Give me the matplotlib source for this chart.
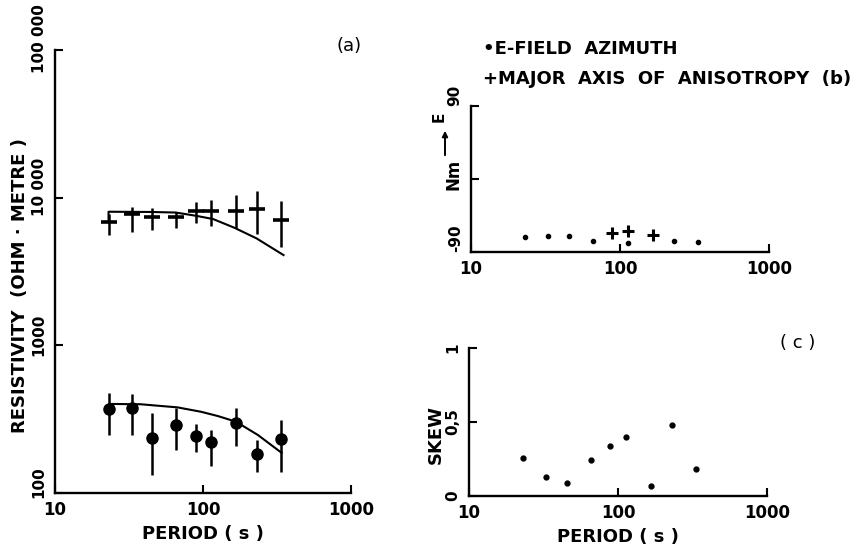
import matplotlib
matplotlib.use("Agg")
import matplotlib.pyplot as plt
import matplotlib.transforms as mtransforms
from matplotlib.ticker import NullLocator

# measurement periods (s)
periods = [23, 33, 45.5, 66, 89, 113, 166, 231, 336]

# (a) upper series, crosses with error bars (ohm-metre)
rho_up = [6840, 7745, 7390, 7390, 8115, 8115, 8115, 8375, 7050]
rho_up_hi = [7745, 8635, 8505, 7985, 9340, 9635, 10420, 11085, 9485]
rho_up_lo = [5580, 5850, 6035, 6225, 6730, 6425, 6225, 5670, 4630]

# (a) lower series, dots with error bars
rho_dn = [370, 376, 236, 289, 243, 221, 298, 184, 232]
rho_dn_hi = [475, 468, 348, 376, 293, 267, 376, 228, 312]
rho_dn_lo = [247, 247, 132, 195, 190, 152, 208, 139, 139]

# model curves
model_up_p = [23, 23, 45, 65.5, 89.6, 117, 163, 230, 350]
model_up_r = [6840, 8030, 8000, 7930, 7540, 7165, 6255, 5300, 4085]
model_dn_p = [23.4, 37.9, 67.3, 96.9, 126, 167, 235, 340]
model_dn_r = [401, 399, 380, 355, 332, 304, 247, 187]

# (b) azimuths (deg)
az_p = [23, 33, 45.5, 66, 113, 231, 336]
az_e = [-71.5, -70.3, -70, -76, -79, -76, -77.7]
aniso_p = [89, 113, 166]
aniso = [-66.6, -64, -69]

# (c) skew
skew = [0.26, 0.13, 0.09, 0.24, 0.34, 0.40, 0.07, 0.48, 0.18]

W, H = 858, 550


def fx(x):
    return x / W


def fy(y):
    return 1 - y / H


def style(ax):
    for s in ["top", "right"]:
        ax.spines[s].set_visible(False)
    for s in ["left", "bottom"]:
        ax.spines[s].set_linewidth(1.7)
    ax.tick_params(which="major", direction="in", length=6, width=1.5,
                   top=False, right=False, pad=6)
    ax.set_xscale("log")
    ax.set_xlim(10, 1000)
    ax.set_xticks([10, 100, 1000])
    ax.set_xticklabels(["10", "100", "1000"], fontsize=12, fontweight="bold")
    ax.xaxis.set_minor_locator(NullLocator())
    ax.patch.set_visible(False)


def shift_up(ax, px):
    off = mtransforms.ScaledTranslation(0, px / 100, ax.figure.dpi_scale_trans)
    for lab in ax.get_yticklabels():
        lab.set_transform(lab.get_transform() + off)


fig = plt.figure(figsize=(W / 100, H / 100), dpi=100)

# panel (a)
ax1 = fig.add_axes([fx(55), fy(493), fx(351 - 55), (493 - 50) / H])
style(ax1)
ax1.set_yscale("log")
ax1.set_ylim(100, 100000)
ax1.set_yticks([100, 1000, 10000, 100000])
ax1.set_yticklabels(["100", "1000", "10 000", "100 000"], rotation=90,
                    va="center", fontsize=11, fontweight="bold")
ax1.yaxis.set_minor_locator(NullLocator())
shift_up(ax1, 11)

err_up = [[c - l for c, l in zip(rho_up, rho_up_lo)],
          [h - c for c, h in zip(rho_up, rho_up_hi)]]
ax1.errorbar(periods, rho_up, yerr=err_up, fmt="_", color="black",
             ms=11, mew=2.6, elinewidth=1.8, capsize=0)
err_dn = [[c - l for c, l in zip(rho_dn, rho_dn_lo)],
          [h - c for c, h in zip(rho_dn, rho_dn_hi)]]
ax1.errorbar(periods, rho_dn, yerr=err_dn, fmt="o", color="black",
             ms=8, elinewidth=1.8, capsize=0)
ax1.plot(model_up_p, model_up_r, color="black", lw=1.5)
ax1.plot(model_dn_p, model_dn_r, color="black", lw=1.5)

ax1.set_xlabel("PERIOD ( s )", fontsize=13, fontweight="bold", labelpad=4)
fig.text(fx(20), fy(286), "RESISTIVITY  (OHM · METRE )", rotation=90,
         ha="center", va="center", fontsize=13, fontweight="bold")
fig.text(fx(349), fy(46), "(a)", ha="center", va="center", fontsize=13)

# panel (b)
ax2 = fig.add_axes([fx(471), fy(252), fx(769 - 471), (252 - 106) / H])
style(ax2)
ax2.set_ylim(-90, 90)
ax2.set_yticks([-90, 0, 90])
ax2.set_yticklabels(["-90", "", "90"], rotation=90, va="bottom",
                    fontsize=11, fontweight="bold")
ax2.plot(az_p, az_e, "o", color="black", ms=3)
ax2.plot(aniso_p, aniso, "+", color="black", ms=9, mew=2.2)

fig.text(fx(453), fy(174), "Nm", rotation=90, ha="center", va="center",
         fontsize=12, fontweight="bold")
fig.patches.append(matplotlib.patches.FancyArrowPatch(
    (fx(445), fy(158)), (fx(445), fy(128)), transform=fig.transFigure,
    arrowstyle="-|>", mutation_scale=8, lw=1.4, color="black"))
fig.text(fx(439), fy(117), "E", rotation=90, ha="center", va="center",
         fontsize=11, fontweight="bold")

fig.text(fx(483), fy(49), "\u2022E-FIELD  AZIMUTH", ha="left", va="center",
         fontsize=13, fontweight="bold")
fig.text(fx(483), fy(79), "+MAJOR  AXIS  OF  ANISOTROPY  (b)", ha="left",
         va="center", fontsize=13, fontweight="bold")

# panel (c)
ax3 = fig.add_axes([fx(469), fy(496), fx(767 - 469), (496 - 348) / H])
style(ax3)
ax3.set_ylim(0, 1)
ax3.set_yticks([0, 0.5, 1])
ax3.set_yticklabels(["0", "0,5", "1"], rotation=90, va="center",
                    fontsize=11, fontweight="bold")
ax3.plot(periods, skew, "o", color="black", ms=3.5)
ax3.set_xlabel("PERIOD ( s )", fontsize=13, fontweight="bold", labelpad=4)
fig.text(fx(436), fy(434), "SKEW", rotation=90, ha="center", va="center",
         fontsize=13, fontweight="bold")
fig.text(fx(798), fy(343), "( c )", ha="center", va="center", fontsize=13)

fig.savefig("out.png", dpi=100)
